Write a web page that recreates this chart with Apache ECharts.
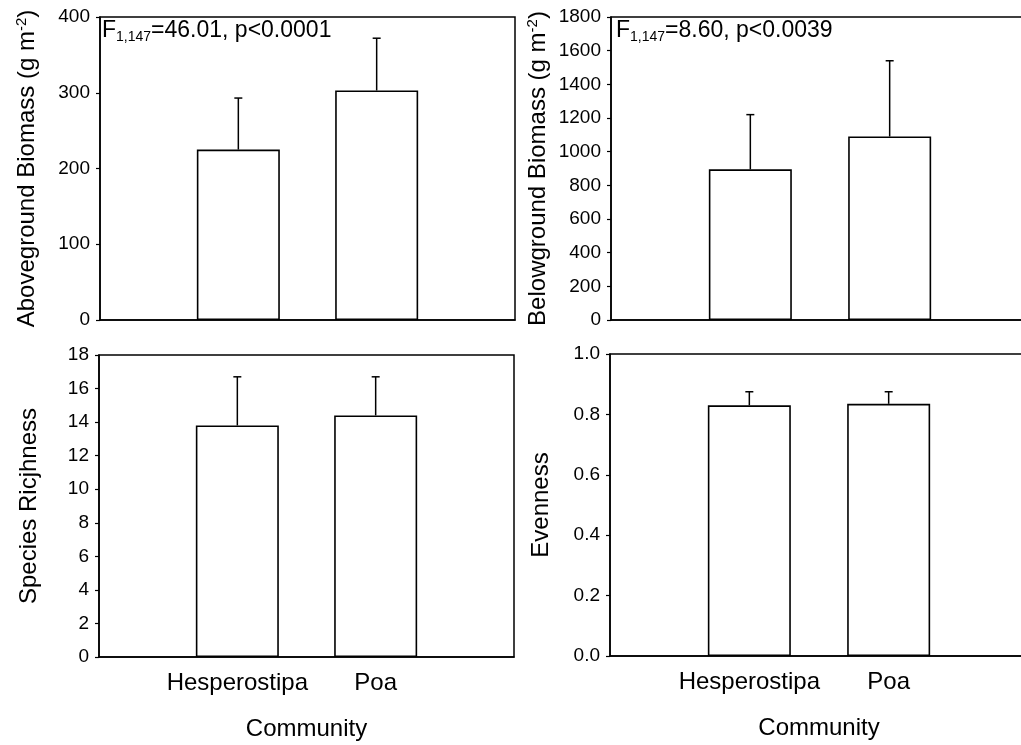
<!DOCTYPE html>
<html>
<head>
<meta charset="utf-8">
<script src="https://cdn.jsdelivr.net/npm/echarts@6/dist/echarts.min.js"></script>
<style>
  html, body { margin: 0; padding: 0; background: #fff; }
  #chart { width: 1021px; height: 745px; }
</style>
</head>
<body>
<div id="chart"></div>
<script>
// Community types compared in every panel
const communities = ['Hesperostipa', 'Poa'];
const communityPos = [1, 2];

// Means and upper error-bar half-widths per community
const abovegroundMean = [225, 303];
const abovegroundErr  = [68, 69];
const belowgroundMean = [895, 1090];
const belowgroundErr  = [325, 450];
const richnessMean    = [13.8, 14.4];
const richnessErr     = [2.9, 2.3];
const evennessMean    = [0.83, 0.835];
const evennessErr     = [0.045, 0.04];

// Axis ranges and tick steps
const abovegroundTicks = { min: 0, max: 400, interval: 100 };
const belowgroundTicks = { min: 0, max: 1800, interval: 200 };
const richnessTicks    = { min: 0, max: 18, interval: 2 };
const evennessTicks    = { min: 0, max: 1.0, interval: 0.2 };

const FONT = "'Liberation Sans', Arial, Helvetica, sans-serif";
const BLACK = '#000';

const grids = [
  { left: 100, top: 17, width: 415, height: 303 },
  { left: 611, top: 17, width: 418, height: 303 },
  { left: 99,  top: 355, width: 415, height: 302 },
  { left: 610, top: 354, width: 418, height: 302 }
].map(g => Object.assign(g, {
  show: true, borderColor: BLACK, borderWidth: 1.5, backgroundColor: 'transparent',
  containLabel: false, outerBoundsMode: 'none'
}));

function xAxisFor(gridIndex, withLabels) {
  return {
    type: 'value', gridIndex, min: 0, max: 3, interval: 1,
    axisLine: { show: true, lineStyle: { color: BLACK, width: 1.5 } },
    axisTick: { show: false },
    splitLine: { show: false },
    axisLabel: {
      show: withLabels, margin: 14, color: BLACK, fontFamily: FONT, fontSize: 24,
      formatter: v => {
        const i = communityPos.indexOf(v);
        return i >= 0 ? communities[i] : '';
      }
    },
    name: withLabels ? 'Community' : '',
    nameLocation: 'middle', nameGap: 60,
    nameTextStyle: { color: BLACK, fontFamily: FONT, fontSize: 24 }
  };
}

function yAxisFor(gridIndex, ticks, name, decimals, gap) {
  return {
    type: 'value', gridIndex, min: ticks.min, max: ticks.max, interval: ticks.interval,
    axisLine: { show: true, lineStyle: { color: BLACK, width: 1.5 } },
    axisTick: { show: true, inside: false, length: 4, lineStyle: { color: BLACK, width: 1.2 } },
    splitLine: { show: false },
    axisLabel: {
      margin: 10, color: BLACK, fontFamily: FONT, fontSize: 19,
      formatter: v => decimals ? v.toFixed(decimals) : String(Math.round(v))
    },
    name, nameLocation: 'middle', nameGap: gap, nameRotate: 90,
    nameTextStyle: {
      color: BLACK, fontFamily: FONT, fontSize: 24,
      rich: { sup: { fontFamily: FONT, fontSize: 15, color: BLACK, verticalAlign: 'top', padding: [0, 0, 11, 0] } }
    }
  };
}

function barSeries(idx, means) {
  return {
    type: 'bar', xAxisIndex: idx, yAxisIndex: idx, barWidth: 83,
    itemStyle: { color: '#fff', borderColor: BLACK, borderWidth: 1.6 },
    data: communityPos.map((x, i) => [x, means[i]]),
    z: 2, silent: true
  };
}

function errorSeries(idx, means, errs) {
  return {
    type: 'custom', xAxisIndex: idx, yAxisIndex: idx, z: 3, silent: true,
    data: communityPos.map((x, i) => [x, means[i], means[i] + errs[i]]),
    renderItem(params, api) {
      const p0 = api.coord([api.value(0), api.value(1)]);
      const p1 = api.coord([api.value(0), api.value(2)]);
      const hw = 4;
      const style = { stroke: BLACK, lineWidth: 1.5 };
      return {
        type: 'group',
        children: [
          { type: 'line', shape: { x1: p0[0], y1: p0[1], x2: p1[0], y2: p1[1] }, style },
          { type: 'line', shape: { x1: p1[0] - hw, y1: p1[1], x2: p1[0] + hw, y2: p1[1] }, style }
        ]
      };
    }
  };
}

const statStyle = {
  fontFamily: FONT, fontSize: 23, fill: BLACK,
  rich: {
    a: { fontFamily: FONT, fontSize: 23, color: BLACK },
    sub: { fontFamily: FONT, fontSize: 14, color: BLACK, padding: [13, 0, 0, 0] }
  }
};

const option = {
  backgroundColor: '#fff',
  animation: false,
  grid: grids,
  xAxis: [xAxisFor(0, false), xAxisFor(1, false), xAxisFor(2, true), xAxisFor(3, true)],
  yAxis: [
    yAxisFor(0, abovegroundTicks, 'Aboveground Biomass (g m{sup|-2})', 0, 60),
    yAxisFor(1, belowgroundTicks, 'Belowground Biomass (g m{sup|-2})', 0, 60),
    yAxisFor(2, richnessTicks, 'Species Ricjhness', 0, 58),
    yAxisFor(3, evennessTicks, 'Evenness', 1, 57)
  ],
  series: [
    barSeries(0, abovegroundMean), errorSeries(0, abovegroundMean, abovegroundErr),
    barSeries(1, belowgroundMean), errorSeries(1, belowgroundMean, belowgroundErr),
    barSeries(2, richnessMean),    errorSeries(2, richnessMean, richnessErr),
    barSeries(3, evennessMean),    errorSeries(3, evennessMean, evennessErr)
  ],
  graphic: [
    { type: 'text', left: 102, top: 19, z: 10,
      style: Object.assign({ text: '{a|F}{sub|1,147}{a|=46.01, p<0.0001}' }, statStyle) },
    { type: 'text', left: 616, top: 19, z: 10,
      style: Object.assign({ text: '{a|F}{sub|1,147}{a|=8.60, p<0.0039}' }, statStyle) }
  ]
};

const chart = echarts.init(document.getElementById('chart'), null, { renderer: 'canvas' });
chart.setOption(option);
</script>
</body>
</html>
